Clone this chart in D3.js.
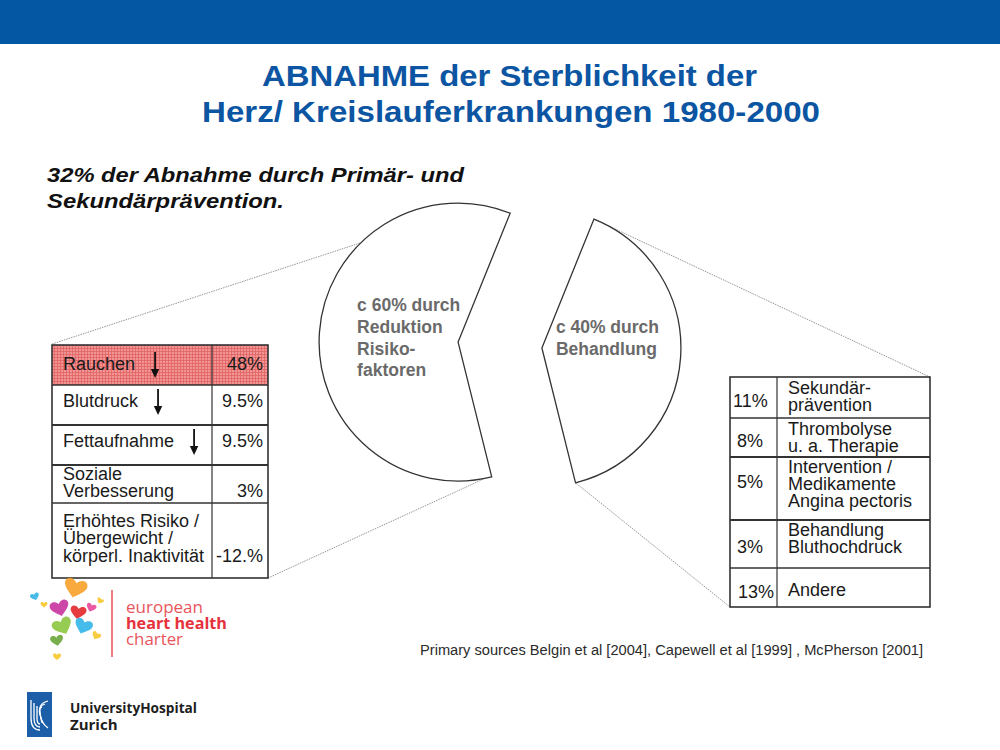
<!DOCTYPE html>
<html><head><meta charset="utf-8">
<script src="https://cdn.jsdelivr.net/npm/d3@7"></script>
<style>body{margin:0;background:#fff}svg{display:block}</style>
</head><body>
<script>
// ---------- data ----------
const titleLines = ["ABNAHME der Sterblichkeit der", "Herz/ Kreislauferkrankungen 1980-2000"];
const subtitleLines = ["32% der Abnahme durch Primär- und", "Sekundärprävention."];
const pieCategories = ["Behandlung", "Reduktion Risikofaktoren"];
const pieValues = [40, 60];
const pieLabels = [["c 40% durch", "Behandlung"], ["c 60% durch", "Reduktion", "Risiko-", "faktoren"]];
const riskLabels = [["Rauchen"], ["Blutdruck"], ["Fettaufnahme"], ["Soziale", "Verbesserung"], ["Erhöhtes Risiko /", "Übergewicht /", "körperl. Inaktivität"]];
const riskValues = ["48%", "9.5%", "9.5%", "3%", "-12.%"];
const riskArrows = [true, true, true, false, false];
const treatValues = ["11%", "8%", "5%", "3%", "13%"];
const treatLabels = [["Sekundär-", "prävention"], ["Thrombolyse", "u. a. Therapie"], ["Intervention /", "Medikamente", "Angina pectoris"], ["Behandlung", "Bluthochdruck"], ["Andere"]];
const sourceText = "Primary sources Belgin et al [2004], Capewell et al [1999] , McPherson [2001]";

// ---------- layout ----------
const W = 1000, H = 750;
const FONT = "'Liberation Sans', Arial, Helvetica, sans-serif";
const svg = d3.select("body").append("svg").attr("width", W).attr("height", H);
const defs = svg.append("defs");
const pat = defs.append("pattern").attr("id", "grid").attr("width", 3).attr("height", 3).attr("patternUnits", "userSpaceOnUse");
pat.append("rect").attr("width", 3).attr("height", 3).attr("fill", "#f39494");
pat.append("path").attr("d", "M0 0.5H3M0.5 0V3").attr("stroke", "#df6464").attr("stroke-width", 0.8);

svg.append("rect").attr("width", W).attr("height", H).attr("fill", "#fff");
svg.append("rect").attr("x", 0).attr("y", 0).attr("width", W).attr("height", 44).attr("fill", "#0357a3");

// multi-line text helper: one <text> with <tspan> lines
function multiText(g, lines, x, y0, lh) {
  const t = g.append("text").attr("x", x).attr("y", y0);
  t.selectAll("tspan").data(lines).join("tspan").attr("x", x).attr("y", (d, j) => y0 + j * lh).text(d => d);
  return t;
}

// title
const titleSpec = [{x: 262, y: 86, w: 495}, {x: 202, y: 122, w: 618}];
svg.selectAll("text.title").data(titleLines).join("text").attr("class", "title")
  .attr("x", (d, i) => titleSpec[i].x).attr("y", (d, i) => titleSpec[i].y)
  .attr("textLength", (d, i) => titleSpec[i].w).attr("lengthAdjust", "spacingAndGlyphs")
  .attr("font-family", FONT).attr("font-weight", "bold").attr("font-size", 30).attr("fill", "#0b55a2")
  .text(d => d);

// subtitle
const subSpec = [{x: 47, y: 182, w: 417}, {x: 47, y: 208, w: 237}];
svg.selectAll("text.sub").data(subtitleLines).join("text").attr("class", "sub")
  .attr("x", (d, i) => subSpec[i].x).attr("y", (d, i) => subSpec[i].y)
  .attr("textLength", (d, i) => subSpec[i].w).attr("lengthAdjust", "spacingAndGlyphs")
  .attr("font-family", FONT).attr("font-weight", "bold").attr("font-style", "italic").attr("font-size", 20.5).attr("fill", "#111")
  .text(d => d);

// ---------- pie ----------
const deg = Math.PI / 180;
const R = 139, base = [500, 345], explode = 42;
const pie = d3.pie().sort(null).value(d => d).startAngle(22 * deg).endAngle(382 * deg);
const arcs = pie(pieValues);
arcs.forEach(a => {
  const m = (a.startAngle + a.endAngle) / 2;
  a.cx = base[0] + explode * Math.sin(m);
  a.cy = base[1] - explode * Math.cos(m);
});
const arcGen = d3.arc().innerRadius(0).outerRadius(R);
const pt = (a, ang) => [a.cx + R * Math.sin(ang), a.cy - R * Math.cos(ang)];

const connectors = [
  [[52, 344], pt(arcs[1], 315.6 * deg)],
  [[268, 578], pt(arcs[1], 169 * deg)],
  [pt(arcs[0], arcs[0].startAngle), [930, 377]],
  [pt(arcs[0], arcs[0].endAngle), [730, 607]]
];
svg.selectAll("line.conn").data(connectors).join("line").attr("class", "conn")
  .attr("x1", d => d[0][0]).attr("y1", d => d[0][1]).attr("x2", d => d[1][0]).attr("y2", d => d[1][1])
  .attr("stroke", "#8a8a8a").attr("stroke-width", 0.9).attr("stroke-dasharray", "1.5,1");

svg.selectAll("path.slice").data(arcs).join("path").attr("class", "slice")
  .attr("transform", d => `translate(${d.cx},${d.cy})`)
  .attr("d", arcGen).attr("fill", "#fff").attr("stroke", "#333").attr("stroke-width", 1.3);

const labelOff = [{dx: 14, dy: -15}, {dx: -101, dy: -31}];
arcs.forEach((a, i) => {
  multiText(svg.append("g"), pieLabels[i], a.cx + labelOff[i].dx, a.cy + labelOff[i].dy, 21.8)
    .attr("font-family", FONT).attr("font-weight", "bold").attr("font-size", 17.5).attr("fill", "#6a6a6a");
});

// ---------- left table ----------
const LT = {x0: 52, x1: 268, xd: 212, rows: [345, 385, 425, 465, 503, 578],
  labelBase: [370, 407, 447, 480, 527], valueBase: [370, 407, 447, 497, 562], thick: [false, false, true, true, false]};
const lt = svg.append("g");
lt.append("rect").attr("x", LT.x0).attr("y", LT.rows[0]).attr("width", LT.x1 - LT.x0).attr("height", LT.rows[1] - LT.rows[0]).attr("fill", "url(#grid)");
lt.append("rect").attr("x", LT.x0).attr("y", LT.rows[0]).attr("width", LT.x1 - LT.x0).attr("height", LT.rows[5] - LT.rows[0])
  .attr("fill", "none").attr("stroke", "#333").attr("stroke-width", 1.6);
lt.append("line").attr("x1", LT.xd).attr("x2", LT.xd).attr("y1", LT.rows[0]).attr("y2", LT.rows[5]).attr("stroke", "#333").attr("stroke-width", 1.2);
lt.selectAll("line.rd").data(LT.rows.slice(1, 5)).join("line").attr("class", "rd")
  .attr("x1", LT.x0).attr("x2", LT.x1).attr("y1", d => d).attr("y2", d => d)
  .attr("stroke", "#333").attr("stroke-width", (d, i) => LT.thick[i + 1] ? 2.2 : 1.4);
riskLabels.forEach((lines, i) => {
  const t = multiText(lt, lines, 63, LT.labelBase[i], 17.3)
    .attr("font-family", FONT).attr("font-size", 18).attr("fill", "#1a1a1a");
  if (riskArrows[i]) {
    const w = t.node().getComputedTextLength();
    const ax = 63 + w + 20, yb = LT.labelBase[i];
    lt.append("line").attr("x1", ax).attr("x2", ax).attr("y1", yb - 18).attr("y2", yb + 1).attr("stroke", "#111").attr("stroke-width", 1.8);
    lt.append("path").attr("d", `M${ax - 4.2},${yb - 1}L${ax + 4.2},${yb - 1}L${ax},${yb + 8}Z`).attr("fill", "#111");
  }
});
lt.selectAll("text.val").data(riskValues).join("text").attr("class", "val")
  .attr("x", 263).attr("y", (d, i) => LT.valueBase[i]).attr("text-anchor", "end")
  .attr("font-family", FONT).attr("font-size", 18).attr("fill", "#1a1a1a").text(d => d);

// ---------- right table ----------
const RT = {x0: 730, x1: 930, xd: 777, rows: [377, 418, 457, 520, 568, 607],
  labelBase: [394, 435, 473, 536, 596], valueBase: [407, 447, 488, 553, 598], valueX: [733, 737, 737, 737, 738],
  thick: [false, false, true, true, false]};
const rt = svg.append("g");
rt.append("rect").attr("x", RT.x0).attr("y", RT.rows[0]).attr("width", RT.x1 - RT.x0).attr("height", RT.rows[5] - RT.rows[0])
  .attr("fill", "#fff").attr("stroke", "#333").attr("stroke-width", 1.6);
rt.append("line").attr("x1", RT.xd).attr("x2", RT.xd).attr("y1", RT.rows[0]).attr("y2", RT.rows[5]).attr("stroke", "#333").attr("stroke-width", 1.2);
rt.selectAll("line.rd").data(RT.rows.slice(1, 5)).join("line").attr("class", "rd")
  .attr("x1", RT.x0).attr("x2", RT.x1).attr("y1", d => d).attr("y2", d => d)
  .attr("stroke", "#333").attr("stroke-width", (d, i) => RT.thick[i + 1] ? 2.2 : 1.4);
treatLabels.forEach((lines, i) => {
  multiText(rt, lines, 788, RT.labelBase[i], 16.8)
    .attr("font-family", FONT).attr("font-size", 18).attr("fill", "#1a1a1a");
});
rt.selectAll("text.val").data(treatValues).join("text").attr("class", "val")
  .attr("x", (d, i) => RT.valueX[i]).attr("y", (d, i) => RT.valueBase[i])
  .attr("font-family", FONT).attr("font-size", 18).attr("fill", "#1a1a1a").text(d => d);

// ---------- source ----------
svg.append("text").attr("x", 420).attr("y", 655).attr("textLength", 503).attr("lengthAdjust", "spacingAndGlyphs")
  .attr("font-family", FONT).attr("font-size", 14).attr("fill", "#2a2a2a").text(sourceText);

// ---------- european heart health charter logo ----------
const heartPath = "M0,0.38 C-0.12,0.26 -0.5,0.02 -0.5,-0.2 C-0.5,-0.46 -0.18,-0.52 0,-0.26 C0.18,-0.52 0.5,-0.46 0.5,-0.2 C0.5,0.02 0.12,0.26 0,0.38Z";
const hearts = [
  {x: 75, y: 589, s: 23, r: 15, c: "#f7a12a"},
  {x: 35, y: 597, s: 9, r: -20, c: "#33b3e6"},
  {x: 44, y: 605, s: 7, r: 0, c: "#f6c72a"},
  {x: 60, y: 609, s: 19, r: -15, c: "#c8339e"},
  {x: 78, y: 613, s: 16, r: 10, c: "#e3262a"},
  {x: 91, y: 608, s: 10, r: 20, c: "#e9479a"},
  {x: 100, y: 601, s: 7, r: 30, c: "#f6c72a"},
  {x: 63, y: 627, s: 20, r: -25, c: "#8cc63f"},
  {x: 83, y: 627, s: 18, r: 20, c: "#31b5e8"},
  {x: 96, y: 636, s: 9, r: 30, c: "#f6c72a"},
  {x: 57, y: 641, s: 13, r: -10, c: "#6aa53a"},
  {x: 57, y: 657, s: 8, r: 0, c: "#f6c72a"}
];
svg.append("g").selectAll("path").data(hearts).join("path")
  .attr("d", heartPath).attr("transform", d => `translate(${d.x},${d.y}) rotate(${d.r}) scale(${d.s})`)
  .attr("fill", d => d.c).attr("opacity", 0.9);
svg.append("line").attr("x1", 112).attr("x2", 112).attr("y1", 590).attr("y2", 657).attr("stroke", "#e8525a").attr("stroke-width", 1.5);
const ehh = svg.append("text").attr("font-family", "'Open Sans', Arial, sans-serif").attr("font-size", 16);
[{t: "european", y: 613, w: 77, b: "normal", c: "#e9545c"}, {t: "heart health", y: 629, w: 101, b: "bold", c: "#e6323d"}, {t: "charter", y: 645, w: 57, b: "normal", c: "#e9545c"}]
  .forEach(d => ehh.append("tspan").attr("x", 126).attr("y", d.y).attr("textLength", d.w).attr("lengthAdjust", "spacingAndGlyphs")
    .attr("font-weight", d.b).attr("fill", d.c).text(d.t));

// ---------- University Hospital Zurich ----------
const uz = svg.append("g");
uz.append("rect").attr("x", 27).attr("y", 692).attr("width", 25).attr("height", 45).attr("fill", "#1c5ea8");
[0, 3, 6].forEach(k => {
  uz.append("path").attr("d", `M${31 + k},${700 + k} V${718} Q${31 + k},${730 - k} ${40},${730 - k}`)
    .attr("fill", "none").attr("stroke", "#fff").attr("stroke-width", 1.3);
  uz.append("path").attr("d", `M${48 - k},${701 + k} Q${38},${703 + k} ${40},${714} Q${42},${724} ${48 - k},${728 - k}`)
    .attr("fill", "none").attr("stroke", "#fff").attr("stroke-width", 1.2);
});
const uzt = uz.append("text").attr("font-family", "'Open Sans', Arial, sans-serif").attr("font-weight", "bold").attr("font-size", 15).attr("fill", "#1e1e1e");
uzt.append("tspan").attr("x", 70).attr("y", 713).attr("textLength", 127).attr("lengthAdjust", "spacingAndGlyphs").text("UniversityHospital");
uzt.append("tspan").attr("x", 70).attr("y", 730).text("Zurich");
</script>
</body></html>
